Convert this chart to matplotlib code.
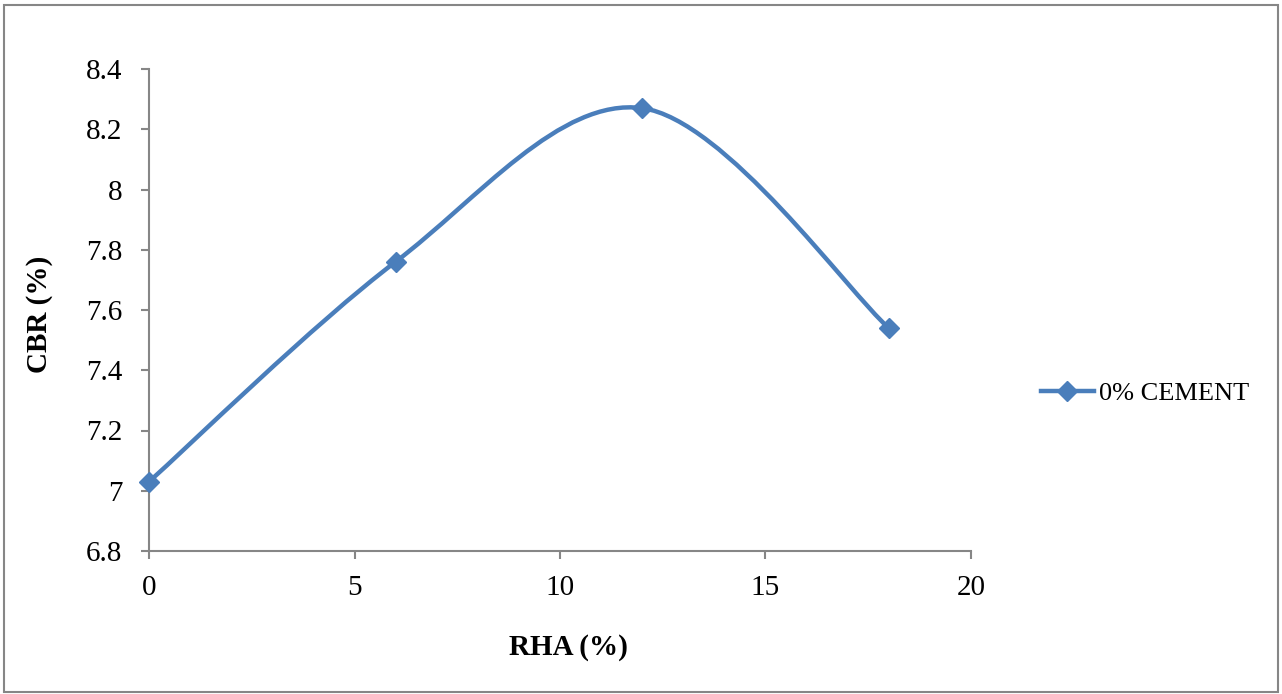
import matplotlib.pyplot as plt
import numpy as np
from matplotlib.path import Path
from matplotlib.patches import PathPatch, Rectangle
from matplotlib.lines import Line2D

# Data
rha = [0, 6, 12, 18]
cbr = [7.03, 7.76, 8.27, 7.54]
series_name = "0% CEMENT"

blue = "#4A7EBB"
grey = "#868686"

plt.rcParams["font.family"] = ["Liberation Serif", "DejaVu Serif"]

fig = plt.figure(figsize=(12.82, 6.94), dpi=100)
ax = fig.add_axes([149 / 1282, 1 - 551 / 694, (971 - 149) / 1282, (551 - 69) / 694])

ax.set_xlim(0, 20)
ax.set_ylim(6.8, 8.4)
ax.set_xticks([0, 5, 10, 15, 20])
ax.set_yticks(np.arange(6.8, 8.41, 0.2))
ax.set_yticklabels(["6.8", "7", "7.2", "7.4", "7.6", "7.8", "8", "8.2", "8.4"])

# Excel-style smoothed line (Catmull-Rom as cubic Bezier segments)
pts = np.column_stack([rha, cbr]).astype(float)
verts = [pts[0]]
codes = [Path.MOVETO]
n = len(pts)
for i in range(n - 1):
    p0 = pts[i - 1] if i > 0 else pts[i]
    p1 = pts[i]
    p2 = pts[i + 1]
    p3 = pts[i + 2] if i + 2 < n else pts[i + 1]
    c1 = p1 + (p2 - p0) / 6
    c2 = p2 - (p3 - p1) / 6
    verts += [c1, c2, p2]
    codes += [Path.CURVE4] * 3
ax.add_patch(PathPatch(Path(verts, codes), fill=False, edgecolor=blue,
                       linewidth=3.2, capstyle="round", zorder=3))
ax.plot(rha, cbr, linestyle="none", marker="D", markersize=10.5,
        color=blue, zorder=4, clip_on=False)

for s in ["top", "right"]:
    ax.spines[s].set_visible(False)
for s in ["left", "bottom"]:
    ax.spines[s].set_color(grey)
    ax.spines[s].set_linewidth(1.5)
ax.tick_params(direction="out", length=6, width=1.5, color=grey,
               labelsize=21)
ax.tick_params(axis="y", pad=13)
ax.tick_params(axis="x", pad=11)

ax.set_xlabel("RHA (%)", fontsize=21, fontweight="bold", labelpad=24)
ax.xaxis.label.set_x(0.51)
ax.set_ylabel("CBR (%)", fontsize=21, fontweight="bold", labelpad=24)
ax.yaxis.label.set_y(0.49)

handle = Line2D([], [], color=blue, linewidth=3.2, marker="D", markersize=10.5)
ax.legend([handle], [series_name], loc="center left",
          bbox_to_anchor=(1041 / 1282, 1 - 393 / 694),
          bbox_transform=fig.transFigure, frameon=False, fontsize=19,
          handlelength=2.0, handletextpad=0.2, borderaxespad=0,
          borderpad=0)

# outer frame
fig.patches.append(Rectangle((4 / 1282, 2 / 694), 1274 / 1282, 687 / 694,
                             transform=fig.transFigure, fill=False,
                             edgecolor=grey, linewidth=1.5))

fig.savefig("out.png", dpi=100)
